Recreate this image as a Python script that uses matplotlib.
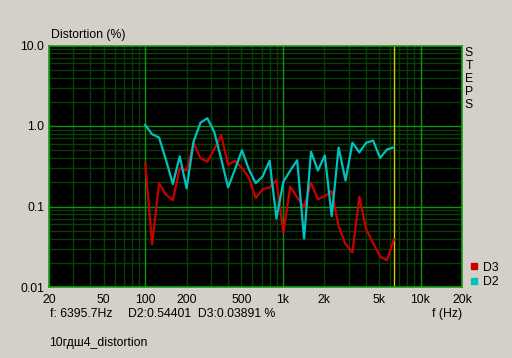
import matplotlib.pyplot as plt
from matplotlib.lines import Line2D
import numpy as np

# 1/6-octave steps from 100 Hz up to the cursor at ~6.4 kHz
freq = [100 * 2 ** (n / 6) for n in range(37)]

d2 = [1.03, 0.79, 0.72, 0.38, 0.19, 0.42, 0.168, 0.64, 1.10, 1.25,
      0.84, 0.39, 0.173, 0.29, 0.50, 0.29, 0.195, 0.236, 0.37, 0.071,
      0.203, 0.28, 0.375, 0.040, 0.48, 0.28, 0.43, 0.076, 0.54, 0.21,
      0.62, 0.47, 0.62, 0.66, 0.40, 0.51, 0.544]

d3 = [0.344, 0.034, 0.195, 0.14, 0.12, 0.30, 0.28, 0.62, 0.40, 0.36,
      0.52, 0.77, 0.33, 0.37, 0.30, 0.23, 0.127, 0.164, 0.173, 0.213,
      0.047, 0.177, 0.13, 0.098, 0.197, 0.123, 0.135, 0.155, 0.057, 0.034,
      0.027, 0.132, 0.052, 0.035, 0.024, 0.0214, 0.0389]

cursor_f = 6395.7
xticks = [20, 50, 100, 200, 500, 1000, 2000, 5000, 10000, 20000]
xlabels = ["20", "50", "100", "200", "500", "1k", "2k", "5k", "10k", "20k"]
yticks = [0.01, 0.1, 1.0, 10.0]
ylabels = ["0.01", "0.1", "1.0", "10.0"]

W, H = 512, 358
bg = "#d4d0c8"
plt.rcParams['font.family'] = ['Liberation Sans', 'DejaVu Sans']
fs = 8.8

fig = plt.figure(figsize=(W / 100, H / 100), dpi=100, facecolor=bg)
ax = fig.add_axes([49 / W, 1 - 287 / H, 413 / W, 241.5 / H])
ax.set_facecolor("black")
ax.set_xscale("log")
ax.set_yscale("log")
ax.set_xlim(20, 20000)
ax.set_ylim(0.01, 10)

# grid: bright at decades, dark for the rest
for dec in [10, 100, 1000, 10000]:
    for k in range(2, 10):
        f = dec * k
        if 20 <= f <= 20000:
            ax.axvline(f, color="#063e06", lw=1, zorder=1, snap=True)
for dec in [0.01, 0.1, 1.0]:
    for k in range(2, 10):
        ax.axhline(dec * k, color="#063e06", lw=1, zorder=1, snap=True)
for f in [100, 1000, 10000]:
    ax.axvline(f, color="#129212", lw=1, zorder=1.5, snap=True)
for v in [0.1, 1.0]:
    ax.axhline(v, color="#129212", lw=1, zorder=1.5, snap=True)

ax.axvline(cursor_f, color="#d8c800", lw=1, zorder=2, snap=True)

ax.plot(freq, d3, color="#c80000", lw=1.6, zorder=3)
ax.plot(freq, d2, color="#00c0c0", lw=1.6, zorder=4)

for s in ax.spines.values():
    s.set_color("#10a010")
    s.set_linewidth(1.2)

ax.set_xticks(xticks)
ax.set_xticklabels(xlabels)
ax.set_yticks(yticks)
ax.set_yticklabels(ylabels)
ax.minorticks_off()
ax.tick_params(length=0, labelsize=fs, colors="black")
ax.tick_params(axis="x", pad=5)
ax.tick_params(axis="y", pad=3.5)


def px(x, y):
    return x / W, 1 - y / H


fig.text(*px(51, 35), "Distortion (%)", fontsize=fs, va="center", ha="left")
for i, ch in enumerate("STEPS"):
    fig.text(*px(469, 52.5 + i * 13.2), ch, fontsize=fs, va="center", ha="center")
fig.text(*px(50, 314), "f: 6395.7Hz", fontsize=fs, va="center", ha="left")
fig.text(*px(128, 314), "D2:0.54401  D3:0.03891 %", fontsize=fs, va="center", ha="left")
fig.text(*px(462, 314), "f (Hz)", fontsize=fs, va="center", ha="right")
fig.text(*px(49, 343), "10гдш4_distortion", fontsize=fs, va="center", ha="left")

handles = [Line2D([], [], color="#c80000", marker="s", ls="none", markersize=5),
           Line2D([], [], color="#00c0c0", marker="s", ls="none", markersize=5)]
fig.legend(handles, ["D3", "D2"], loc="upper left", bbox_to_anchor=px(462, 253),
           frameon=False, fontsize=fs, handlelength=0.6, handletextpad=0.4,
           labelspacing=0.2, borderpad=0.2)

fig.savefig("out.png", dpi=100, facecolor=bg)
